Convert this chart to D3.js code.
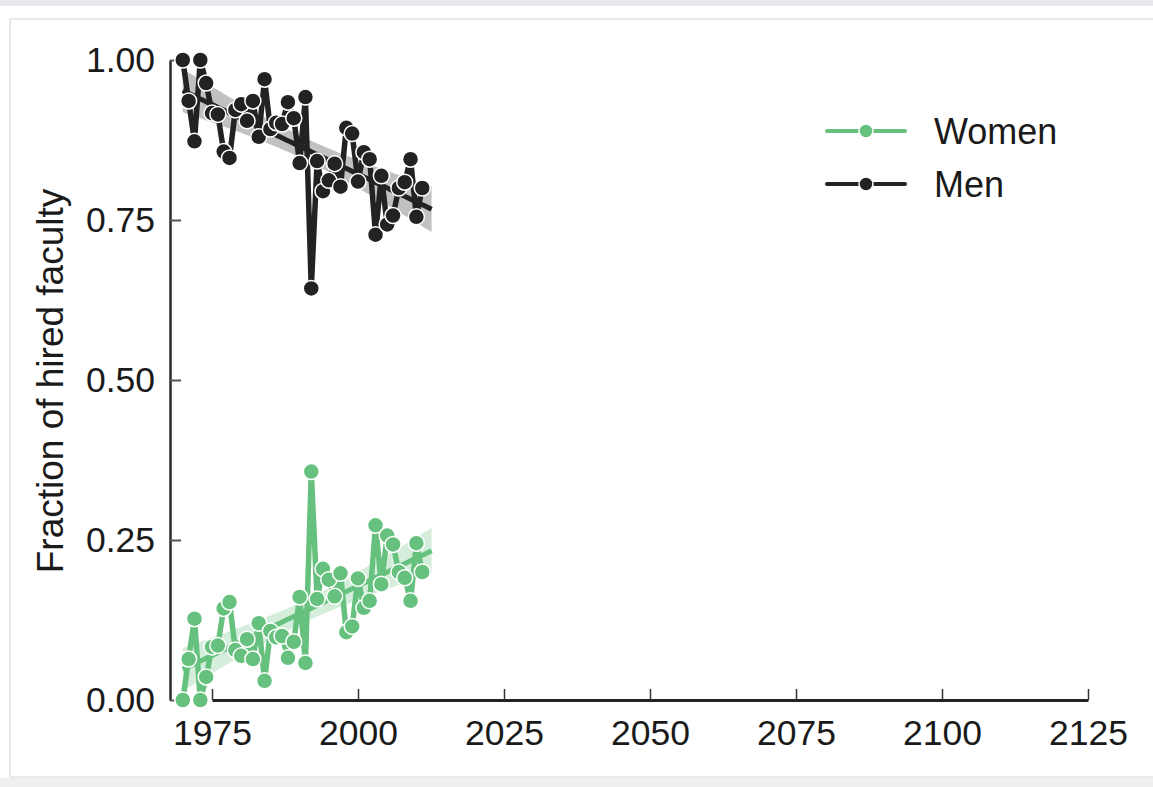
<!DOCTYPE html>
<html>
<head>
<meta charset="utf-8">
<script src="https://cdn.jsdelivr.net/npm/d3@7"></script>
<style>
  html, body { margin: 0; padding: 0; background: #fff; }
  svg { display: block; font-family: "Liberation Sans", Arial, Helvetica, sans-serif; }
</style>
</head>
<body>
<svg id="chart" width="1153" height="787"></svg>
<script>
// ---- data ----
const years = d3.range(1970, 2012);
const women = [0.0, 0.064, 0.127, 0.0, 0.036, 0.083, 0.085, 0.143, 0.153, 0.078,
  0.069, 0.095, 0.064, 0.12, 0.03, 0.108, 0.098, 0.1, 0.066, 0.091,
  0.161, 0.058, 0.357, 0.158, 0.205, 0.188, 0.162, 0.198, 0.106, 0.115,
  0.19, 0.144, 0.155, 0.273, 0.181, 0.257, 0.243, 0.2, 0.191, 0.155,
  0.245, 0.2];
const men = [1.0, 0.936, 0.873, 1.0, 0.964, 0.917, 0.915, 0.857, 0.847, 0.922,
  0.931, 0.905, 0.936, 0.88, 0.97, 0.892, 0.902, 0.9, 0.934, 0.909,
  0.839, 0.942, 0.643, 0.842, 0.795, 0.812, 0.838, 0.802, 0.894, 0.885,
  0.81, 0.856, 0.845, 0.727, 0.819, 0.743, 0.757, 0.8, 0.809, 0.845,
  0.755, 0.8];
const xTicks = [1975, 2000, 2025, 2050, 2075, 2100, 2125];
const yTicks = [0, 0.25, 0.5, 0.75, 1.0];
const seriesNames = ["Women", "Men"];
const seriesColors = ["#66c17e", "#222222"];
const regExtent = [1970, 2012.6];
const yLabel = "Fraction of hired faculty";

// ---- layout ----
const svg = d3.select("#chart");
const W = 1153, H = 787;

// screenshot frame
svg.append("rect").attr("x", 0).attr("y", 0).attr("width", W).attr("height", 6).attr("fill", "#e7e9ed");
svg.append("rect").attr("x", 10).attr("y", 19).attr("width", W).attr("height", 758)
  .attr("fill", "none").attr("stroke", "#e2e2e2").attr("stroke-width", 1.5);
svg.append("rect").attr("x", 0).attr("y", 778).attr("width", W).attr("height", 9).attr("fill", "#efefef");

const x = d3.scaleLinear().domain([1975, 2125]).range([212, 1088]);
const y = d3.scaleLinear().domain([0, 1]).range([700, 60]);

const fontSize = 35.5;

// y axis
const gy = svg.append("g").attr("transform", `translate(170,0)`)
  .call(d3.axisLeft(y).tickValues(yTicks).tickFormat(d3.format(".2f"))
    .tickSizeInner(-11).tickSizeOuter(0).tickPadding(15));
gy.select(".domain").attr("stroke", "#2a2a2a").attr("stroke-width", 2.5);
gy.selectAll(".tick line").attr("stroke", "#555").attr("stroke-width", 2);
gy.selectAll(".tick text").attr("font-size", fontSize).attr("fill", "#1a1a1a")
  .attr("font-family", "Liberation Sans, Arial, sans-serif");

// x axis
const gx = svg.append("g").attr("transform", `translate(0,700)`)
  .call(d3.axisBottom(x).tickValues(xTicks).tickFormat(d3.format("d"))
    .tickSizeInner(-11).tickSizeOuter(0).tickPadding(20));
gx.select(".domain").attr("stroke", "#222").attr("stroke-width", 3);
gx.selectAll(".tick line").attr("stroke", "#333").attr("stroke-width", 1.5);
gx.selectAll(".tick text").attr("font-size", fontSize).attr("fill", "#1a1a1a")
  .attr("font-family", "Liberation Sans, Arial, sans-serif");

// y label
svg.append("text")
  .attr("transform", "translate(63,381) rotate(-90)")
  .attr("text-anchor", "middle")
  .attr("font-size", 37)
  .attr("fill", "#1a1a1a")
  .text(yLabel);

// ---- regression (OLS + 95% CI of mean) ----
function regress(xs, ys) {
  const n = xs.length;
  const mx = d3.mean(xs), my = d3.mean(ys);
  let sxx = 0, sxy = 0;
  for (let i = 0; i < n; i++) { sxx += (xs[i] - mx) ** 2; sxy += (xs[i] - mx) * (ys[i] - my); }
  const b = sxy / sxx, a = my - b * mx;
  let sse = 0;
  for (let i = 0; i < n; i++) sse += (ys[i] - (a + b * xs[i])) ** 2;
  const s = Math.sqrt(sse / (n - 2));
  const t = 2.02;
  const grid = d3.range(0, 101).map(k => regExtent[0] + (regExtent[1] - regExtent[0]) * k / 100);
  return grid.map(g => {
    const fit = a + b * g;
    const se = s * Math.sqrt(1 / n + (g - mx) ** 2 / sxx);
    return { x: g, fit, lo: fit - t * se, hi: fit + t * se };
  });
}

const allSeries = [women, men];
const area = d3.area().x(d => x(d.x)).y0(d => y(d.lo)).y1(d => y(d.hi));
const fitLine = d3.line().x(d => x(d.x)).y(d => y(d.fit));
const dataLine = d3.line().x(d => x(d[0])).y(d => y(d[1]));

allSeries.forEach((vals, si) => {
  const col = seriesColors[si];
  const reg = regress(years, vals);
  const g = svg.append("g");
  g.append("path").datum(reg).attr("d", area).attr("fill", col).attr("fill-opacity", 0.28);
  g.append("path").datum(reg).attr("d", fitLine).attr("fill", "none")
    .attr("stroke", col).attr("stroke-width", 5);
  const pts = years.map((yr, i) => [yr, vals[i]]);
  g.append("path").datum(pts).attr("d", dataLine).attr("fill", "none")
    .attr("stroke", col).attr("stroke-width", 5.5).attr("stroke-linejoin", "round");
  g.selectAll("circle").data(pts).join("circle")
    .attr("cx", d => x(d[0])).attr("cy", d => y(d[1])).attr("r", 8)
    .attr("fill", col).attr("stroke", "#fff").attr("stroke-width", 1.5);
});

// ---- legend ----
const leg = svg.append("g");
seriesNames.forEach((name, i) => {
  const ly = 131 + i * 53;
  leg.append("line").attr("x1", 827).attr("x2", 905).attr("y1", ly).attr("y2", ly)
    .attr("stroke", seriesColors[i]).attr("stroke-width", 4).attr("stroke-linecap", "round");
  leg.append("circle").attr("cx", 866).attr("cy", ly).attr("r", 7)
    .attr("fill", seriesColors[i]).attr("stroke", "#fff").attr("stroke-width", 1.5);
  leg.append("text").attr("x", 934).attr("y", ly + 13).attr("font-size", 36)
    .attr("fill", "#1a1a1a").text(name);
});
</script>
</body>
</html>
